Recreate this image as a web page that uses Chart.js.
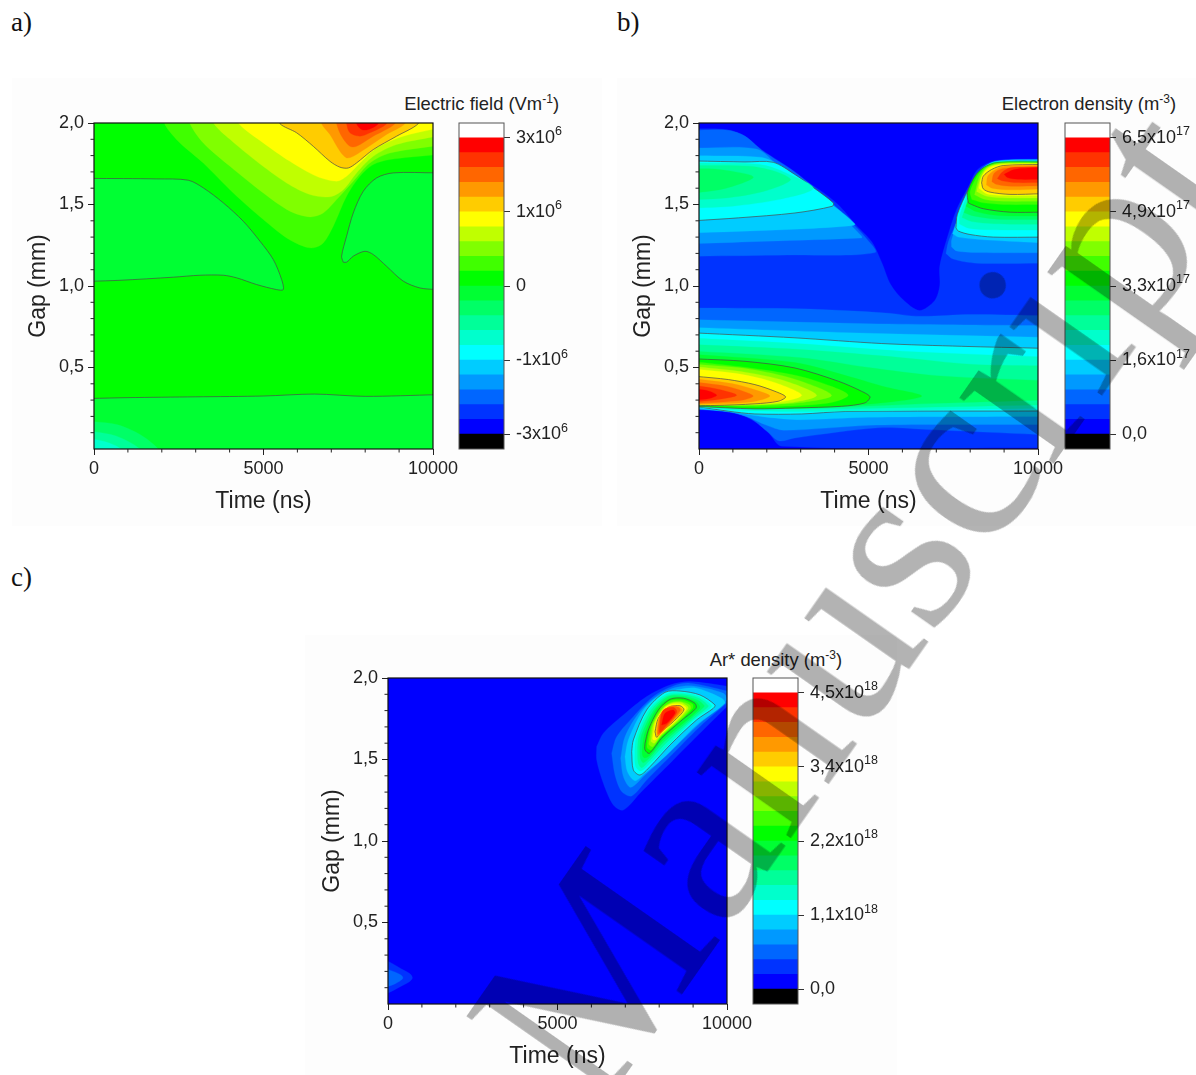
<!DOCTYPE html>
<html><head><meta charset="utf-8">
<script src="https://cdn.jsdelivr.net/npm/chart.js@4"></script>
<style>
html,body{margin:0;padding:0;background:#fff;width:1196px;height:1075px;overflow:hidden;font-family:"Liberation Sans",Arial,sans-serif}
canvas{position:absolute}
.pad{position:absolute;background:#fdfdfd}
.tag{position:absolute;font:27px "Liberation Serif",serif;color:#111;line-height:1}
.cbt{position:absolute;font:18.4px "Liberation Sans",sans-serif;color:#222;line-height:1;white-space:nowrap}
.cbt sup{font-size:12px;line-height:0}
#wm{position:absolute;font:250px "Liberation Serif",serif;line-height:1;color:#b3b3b3;mix-blend-mode:multiply;white-space:nowrap;transform-origin:0 .8375em;transform:rotate(-55deg);left:597px;top:calc(1116px - .8375em);pointer-events:none}
</style></head><body>
<div class="pad" style="left:12px;top:78px;width:590px;height:448px"></div>
<div class="pad" style="left:617px;top:78px;width:579px;height:448px"></div>
<div class="pad" style="left:305px;top:635px;width:592px;height:440px"></div>
<div class="tag" style="left:11px;top:9px">a)</div>
<div class="tag" style="left:617px;top:9px">b)</div>
<div class="tag" style="left:11px;top:564px">c)</div>
<div class="cbt" style="right:637px;top:95px">Electric field (Vm<sup>-1</sup>)</div>
<div class="cbt" style="right:20px;top:95px">Electron density (m<sup>-3</sup>)</div>
<div class="cbt" style="right:354px;top:651px">Ar* density (m<sup>-3</sup>)</div>
<canvas id="a" width="443" height="411" style="left:20px;top:113px"></canvas>
<canvas id="ac" width="156" height="346" style="left:440px;top:113px"></canvas>
<canvas id="b" width="443" height="411" style="left:625px;top:113px"></canvas>
<canvas id="bc" width="156" height="346" style="left:1046px;top:113px"></canvas>
<canvas id="c" width="443" height="411" style="left:314px;top:668px"></canvas>
<canvas id="cc" width="156" height="346" style="left:734px;top:668px"></canvas>
<div id="wm">Manuscript</div>
<script>
// Contour band colours, hottest (0) to coldest (19)
const bandColors=['#ff0000','#ff3300','#ff6600','#ff9900','#ffcc00','#ffff00','#c0ff00','#80ff00','#40ff00','#00ff00','#00ff33','#00ff66','#00ff99','#00ffcc','#00ffff','#00ccff','#0099ff','#0066ff','#0033ff','#0000ff'];
const overColor='#ffffff', underColor='#000000';
const tickLevels=[1,6,11,16,21];
const fieldTicks=['-3x10','-1x10','0','1x10','3x10'];
const fieldExp=['6','6','','6','6'];
const electronTicks=['0,0','1,6x10','3,3x10','4,9x10','6,5x10'];
const electronExp=['','17','17','17','17'];
const arTicks=['0,0','1,1x10','2,2x10','3,4x10','4,5x10'];
const arExp=['','18','18','18','18'];
const fullArea=[[-100,-.05],[10100,-.05],[10100,2.05],[-100,2.05]];

// a) Electric field: contour outlines as [time ns, gap mm]
const A8=[[2090,2.05],[2094,1.99],[2536,1.878],[3224,1.755],[4109,1.571],[4994,1.408],[5682,1.295],[6173,1.244],[6468,1.234],[6763,1.264],[7058,1.367],[7451,1.551],[7844,1.673],[8238,1.745],[8729,1.776],[10100,1.806],[10100,2.05]];
const A7=[[2831,2.05],[2831,1.996],[3224,1.878],[4011,1.735],[4994,1.571],[5780,1.459],[6370,1.424],[6763,1.448],[7156,1.53],[7648,1.643],[8139,1.755],[8729,1.816],[10100,1.861],[10100,2.05]];
const A6=[[3539,2.05],[3539,1.996],[4011,1.9],[4797,1.765],[5682,1.632],[6370,1.561],[6960,1.547],[7353,1.591],[7746,1.694],[8238,1.796],[8926,1.868],[10100,1.919],[10100,2.05]];
const A5=[[4276,2.05],[4276,1.996],[4994,1.878],[5780,1.765],[6566,1.673],[7156,1.643],[7451,1.673],[7844,1.755],[8336,1.847],[9122,1.919],[10100,1.966],[10100,2.05]];
const A4=[[5485,2.05],[5485,1.996],[5977,1.94],[6468,1.857],[6960,1.765],[7255,1.729],[7500,1.724],[7746,1.755],[8238,1.837],[8926,1.919],[9565,1.996],[9565,2.05]];
const A3=[[6714,2.05],[6714,1.996],[6960,1.93],[7255,1.827],[7451,1.786],[7648,1.796],[8041,1.847],[8631,1.93],[9171,1.996],[9171,2.05]];
const A2=[[7156,2.05],[7156,1.996],[7304,1.919],[7550,1.857],[7746,1.857],[8238,1.919],[8877,1.996],[8877,2.05]];
const A1=[[7451,2.05],[7451,1.996],[7550,1.94],[7844,1.919],[8139,1.94],[8631,1.996],[8631,2.05]];
const A0=[[7746,2.05],[7746,1.996],[7893,1.96],[8090,1.96],[8385,1.996],[8385,2.05]];
const A10left=[[-100,1.66],[1850,1.657],[2780,1.649],[3224,1.602],[3814,1.51],[4404,1.397],[4895,1.275],[5289,1.162],[5534,1.04],[5583,.978],[5387,.978],[4797,1.009],[4207,1.05],[3814,1.066],[3126,1.066],[2339,1.054],[767,1.035],[-100,1.029]];
const A10right=[[7353,1.146],[7304,1.183],[7451,1.305],[7648,1.448],[7943,1.581],[8336,1.663],[8827,1.694],[10100,1.694],[10100,.978],[9614,.988],[9122,1.03],[8631,1.121],[8238,1.193],[7992,1.213],[7648,1.183],[7451,1.146]];
const A10low=[[-100,.31],[1000,.315],[3000,.32],[5000,.325],[6500,.337],[8000,.323],[10100,.333],[10100,-.05],[-100,-.05]];
const A11=[[-100,.17],[670,.15],[1357,.089],[1897,0],[1950,-.05],[-100,-.05]];
const A12=[[-100,.11],[650,.08],[1357,0],[1400,-.05],[-100,-.05]];
const A13=[[-100,.065],[400,.04],[790,0],[850,-.05],[-100,-.05]];
const fieldLayers=[[9,fullArea],[8,A8],[7,A7],[6,A6],[5,A5],[4,A4,1],[3,A3],[2,A2],[1,A1],[0,A0],[10,A10left,1],[10,A10right,1],[10,A10low,1],[11,A11],[12,A12],[13,A13]];

// b) Electron density
const B18=[[-100,1.965],[800,1.96],[1350,1.92],[2000,1.80],[2800,1.69],[3550,1.59],[4100,1.50],[4650,1.37],[5100,1.27],[5400,1.14],[5650,1.01],[6000,.92],[6500,.85],[6950,.91],[7100,1.0],[7100,1.12],[7300,1.28],[7600,1.47],[7950,1.61],[8200,1.71],[8600,1.76],[9000,1.775],[10100,1.78],[10100,.007],[2440,.017],[2050,.10],[1553,.18],[865,.232],[-100,.24]];
const B17low=[[-100,.865],[3000,.86],[5500,.835],[6500,.814],[8000,.825],[10100,.818],[10100,.088],[6763,.119],[5290,.13],[2831,.068],[2350,.05],[2000,.11],[1500,.19],[800,.235],[-100,.245]];
const B16low=[[-100,.793],[5000,.769],[10100,.757],[10100,.15],[7000,.15],[5000,.145],[2500,.115],[2000,.145],[1400,.20],[800,.23],[-100,.245]];
const B15low=[[-100,.745],[5000,.71],[10100,.685],[10100,.20],[5000,.195],[3000,.18],[2000,.195],[1000,.225],[-100,.25]];
const B14low=[[-100,.712],[2830,.682],[5390,.647],[7750,.63],[10100,.618],[10100,.233],[4310,.23],[3030,.215],[1650,.215],[865,.232],[-100,.262]];
const B13low=[[-100,.68],[3000,.645],[6000,.60],[10100,.565],[10100,.25],[3000,.23],[1000,.24],[-100,.262]];
const B12low=[[-100,.64],[3000,.61],[6000,.56],[8000,.52],[10100,.51],[10100,.27],[3000,.245],[-100,.265]];
const B11low=[[-100,.60],[3000,.56],[5000,.50],[7000,.45],[10100,.42],[10100,.30],[7000,.28],[3000,.25],[-100,.27]];
const B10low=[[-100,.58],[2830,.53],[4500,.44],[5500,.38],[6570,.325],[5500,.285],[3000,.25],[-100,.265]];
const B9low=[[-100,.553],[1357,.538],[2831,.497],[4109,.416],[4797,.354],[5043,.32],[4895,.283],[4207,.262],[2831,.252],[1650,.246],[-100,.262]];
const B8low=[[-100,.535],[1400,.50],[2900,.45],[3900,.385],[4400,.33],[3900,.285],[2830,.265],[1500,.26],[-100,.27]];
const B7low=[[-100,.52],[1500,.49],[2800,.43],[3910,.33],[3000,.285],[1500,.268],[-100,.27]];
const B6low=[[-100,.505],[1400,.47],[2500,.42],[3470,.33],[2700,.285],[1300,.27],[-100,.27]];
const B5low=[[-100,.49],[1200,.46],[2200,.41],[3030,.33],[2300,.285],[1200,.272],[-100,.272]];
const B4low=[[-100,.446],[865,.426],[1650,.395],[2240,.354],[2555,.32],[2340,.293],[1650,.277],[470,.267],[-100,.268]];
const B3low=[[-100,.43],[1000,.40],[1700,.36],[2090,.325],[1700,.295],[1000,.28],[-100,.275]];
const B2low=[[-100,.41],[800,.385],[1300,.355],[1600,.325],[1300,.30],[800,.29],[-100,.28]];
const B1low=[[-100,.39],[600,.365],[1110,.33],[600,.305],[-100,.29]];
const B0low=[[-100,.37],[300,.355],[520,.33],[300,.31],[-100,.30]];
const B17ul=[[-100,1.955],[850,1.955],[1350,1.92],[1850,1.835],[2830,1.70],[3814,1.53],[4500,1.39],[4900,1.30],[5190,1.205],[2600,1.19],[-100,1.183]];
const B16ul=[[-100,1.847],[1700,1.84],[2340,1.735],[3224,1.59],[4109,1.448],[4797,1.305],[4797,1.295],[2000,1.275],[-100,1.26]];
const B15ul=[[-100,1.80],[1800,1.79],[2300,1.75],[3224,1.60],[4109,1.47],[4600,1.38],[4500,1.37],[3000,1.35],[-100,1.326]];
const B14ul=[[-100,1.767],[1357,1.761],[2190,1.759],[2830,1.684],[3322,1.612],[3961,1.51],[3932,1.489],[2830,1.448],[1160,1.418],[-100,1.401]];
const B13ul=[[-100,1.755],[1800,1.745],[2500,1.70],[3372,1.60],[2340,1.53],[1000,1.49],[-100,1.479]];
const B12ul=[[-100,1.74],[1500,1.735],[2300,1.70],[2700,1.65],[1900,1.58],[800,1.54],[-100,1.53]];
const B11ul=[[-100,1.72],[600,1.715],[1602,1.669],[800,1.6],[-100,1.571]];
const B17ur=[[7285,1.20],[7354,1.27],[7551,1.37],[7895,1.55],[8288,1.71],[8681,1.76],[9300,1.775],[10100,1.775],[10100,1.14],[8190,1.14],[7500,1.165]];
const B16ur=[[7450,1.24],[7450,1.28],[7650,1.40],[7950,1.55],[8300,1.71],[8700,1.76],[10100,1.775],[10100,1.204],[8300,1.205],[7600,1.215]];
const B15ur=[[7480,1.32],[7650,1.42],[8000,1.56],[8350,1.71],[8750,1.765],[10100,1.775],[10100,1.265],[8300,1.285],[7650,1.30]];
const B14ur=[[7580,1.357],[7620,1.439],[7944,1.592],[8288,1.705],[8681,1.752],[9271,1.764],[10100,1.764],[10100,1.30],[8681,1.30],[7993,1.316],[7649,1.337]];
const B13ur=[[7680,1.38],[7700,1.44],[8000,1.59],[8330,1.71],[8700,1.757],[10100,1.765],[10100,1.343],[8600,1.345],[7950,1.355]];
const B12ur=[[7760,1.42],[8020,1.585],[8350,1.71],[8720,1.757],[10100,1.765],[10100,1.378],[8700,1.382],[8050,1.395]];
const B11ur=[[7820,1.45],[8050,1.58],[8370,1.71],[8730,1.757],[10100,1.763],[10100,1.408],[8800,1.41],[8100,1.43]];
const B10ur=[[7880,1.49],[8080,1.59],[8380,1.715],[8750,1.757],[10100,1.762],[10100,1.429],[8850,1.432],[8200,1.455]];
const B9ur=[[7944,1.51],[7914,1.572],[8140,1.674],[8386,1.725],[8780,1.756],[10100,1.76],[10100,1.453],[9173,1.453],[8386,1.474],[8042,1.50]];
const B8ur=[[8050,1.53],[8000,1.58],[8200,1.67],[8420,1.725],[8800,1.755],[10100,1.758],[10100,1.50],[9000,1.50],[8400,1.51]];
const B7ur=[[8130,1.56],[8270,1.67],[8470,1.725],[8850,1.752],[10100,1.755],[10100,1.52],[9000,1.52],[8450,1.53]];
const B6ur=[[8190,1.58],[8320,1.67],[8500,1.725],[8900,1.75],[10100,1.752],[10100,1.54],[9100,1.54],[8500,1.55]];
const B5ur=[[8260,1.60],[8350,1.675],[8560,1.725],[8950,1.745],[10100,1.75],[10100,1.555],[9100,1.555],[8500,1.565]];
const B4ur=[[8337,1.633],[8386,1.674],[8632,1.715],[8976,1.739],[10100,1.746],[10100,1.566],[9173,1.562],[8583,1.576],[8386,1.596]];
const B3ur=[[8480,1.62],[8520,1.675],[8750,1.715],[9000,1.735],[10100,1.74],[10100,1.595],[9200,1.59],[8650,1.60]];
const B2ur=[[8640,1.64],[8700,1.69],[8950,1.72],[10100,1.735],[10100,1.615],[9200,1.612],[8800,1.622]];
const B1ur=[[8800,1.66],[8950,1.70],[9200,1.725],[10100,1.73],[10100,1.635],[9300,1.635],[8950,1.645]];
const B0ur=[[9000,1.685],[9300,1.715],[10100,1.728],[10100,1.655],[9400,1.655],[9100,1.665]];
const electronLayers=[[19,fullArea],[18,B18],[17,B17low],[17,B17ul],[17,B17ur],[16,B16low],[16,B16ul],[16,B16ur],[15,B15low],[15,B15ul],[15,B15ur],[14,B14low,1],[14,B14ul,1],[14,B14ur,1],[13,B13low],[13,B13ul],[13,B13ur],[12,B12low],[12,B12ul],[12,B12ur],[11,B11low],[11,B11ul],[11,B11ur],[10,B10low],[10,B10ur],[9,B9low,1],[9,B9ur,1],[8,B8low],[8,B8ur],[7,B7low],[7,B7ur],[6,B6low],[6,B6ur],[5,B5low],[5,B5ur],[4,B4low,1],[4,B4ur,1],[3,B3low],[3,B3ur],[2,B2low],[2,B2ur],[1,B1low],[1,B1ur],[0,B0low],[0,B0ur]];

// c) Ar* density
const C18=[[6156,1.579],[6352,1.661],[6942,1.773],[7630,1.886],[8318,1.957],[8908,1.978],[10100,1.947],[10100,1.845],[9400,1.702],[8416,1.497],[7434,1.293],[6942,1.19],[6647,1.221],[6352,1.354],[6156,1.497]];
const C17=[[6598,1.538],[6745,1.64],[7237,1.763],[7827,1.886],[8416,1.951],[8908,1.968],[10100,1.916],[10100,1.865],[9301,1.722],[8416,1.538],[7630,1.374],[7188,1.276],[6893,1.303],[6696,1.405]];
const C16=[[6864,1.507],[6991,1.64],[7434,1.794],[7974,1.896],[8515,1.943],[9006,1.951],[9891,1.906],[9989,1.865],[9203,1.722],[8318,1.548],[7581,1.405],[7158,1.329],[6942,1.395]];
const C15=[[6991,1.518],[7089,1.62],[7532,1.804],[8073,1.902],[8613,1.931],[9105,1.937],[9842,1.876],[9940,1.845],[9105,1.712],[8220,1.528],[7581,1.415],[7286,1.37],[7060,1.426]];
const C14=[[7188,1.548],[7237,1.62],[7630,1.804],[8171,1.912],[8613,1.92],[9203,1.896],[9645,1.835],[9596,1.814],[9105,1.743],[8318,1.589],[7728,1.456],[7434,1.405],[7237,1.436]];
const C13=[[7280,1.56],[7320,1.63],[7680,1.80],[8200,1.90],[8650,1.91],[9200,1.885],[9550,1.83],[9500,1.815],[9000,1.74],[8250,1.585],[7700,1.47],[7450,1.43],[7300,1.46]];
const C12=[[7360,1.57],[7400,1.64],[7750,1.80],[8220,1.89],[8660,1.90],[9180,1.875],[9450,1.83],[9400,1.815],[8950,1.74],[8200,1.60],[7700,1.49],[7480,1.45],[7380,1.48]];
const C11=[[7430,1.58],[7480,1.65],[7830,1.80],[8260,1.885],[8680,1.89],[9130,1.865],[9330,1.83],[9280,1.815],[8850,1.735],[8150,1.61],[7720,1.51],[7530,1.48],[7440,1.51]];
const C10=[[7510,1.59],[7580,1.665],[7900,1.805],[8290,1.875],[8700,1.88],[9090,1.855],[9200,1.825],[9180,1.81],[8750,1.73],[8110,1.62],[7720,1.525],[7560,1.51],[7500,1.53]];
const C9=[[7581,1.6],[7679,1.681],[7974,1.804],[8318,1.869],[8711,1.876],[9055,1.845],[9085,1.814],[8613,1.732],[8073,1.63],[7709,1.538],[7581,1.559]];
const C8=[[7650,1.61],[7740,1.70],[8020,1.81],[8320,1.86],[8680,1.865],[8980,1.84],[8990,1.815],[8580,1.73],[8060,1.64],[7770,1.56],[7650,1.57]];
const C7=[[7710,1.62],[7790,1.71],[8070,1.81],[8340,1.85],[8660,1.855],[8900,1.835],[8920,1.81],[8540,1.73],[8060,1.645],[7820,1.58],[7700,1.59]];
const C6=[[7770,1.63],[7840,1.72],[8120,1.815],[8360,1.845],[8640,1.85],[8840,1.825],[8850,1.81],[8500,1.73],[8060,1.65],[7860,1.60],[7760,1.61]];
const C5=[[7820,1.65],[7900,1.735],[8180,1.82],[8380,1.84],[8620,1.84],[8790,1.82],[8790,1.805],[8460,1.73],[8070,1.66],[7890,1.62],[7810,1.625]];
const C4=[[7876,1.671],[7974,1.753],[8269,1.82],[8613,1.83],[8731,1.804],[8416,1.732],[8073,1.671],[7925,1.636]];
const C3=[[7930,1.685],[8020,1.77],[8300,1.825],[8590,1.825],[8680,1.80],[8350,1.725],[8050,1.66],[7950,1.645]];
const C2=[[7970,1.70],[8060,1.785],[8330,1.825],[8570,1.82],[8620,1.80],[8250,1.705],[8020,1.66],[7960,1.655]];
const C1=[[8010,1.70],[8110,1.80],[8420,1.82],[8520,1.79],[8200,1.705],[8020,1.665]];
const C0=[[8073,1.712],[8171,1.783],[8416,1.804],[8466,1.783],[8220,1.722]];
const Cleft18=[[-100,.262],[0,.262],[400,.215],[650,.185],[720,.16],[620,.135],[350,.105],[0,.067],[-100,.067]];
const Cleft17=[[-100,.22],[220,.195],[400,.175],[440,.16],[380,.145],[220,.125],[-100,.10]];
const arLayers=[[19,fullArea],[18,C18],[18,Cleft18],[17,Cleft17],[17,C17],[16,C16],[15,C15],[14,C14,1],[13,C13],[12,C12],[11,C11],[10,C10],[9,C9,1],[8,C8],[7,C7],[6,C6],[5,C5],[4,C4,1],[3,C3],[2,C2],[1,C1],[0,C0]];

const xTicks=[0,5000,10000], yTicks=[.5,1,1.5,2];
const fmtGap=v=>v.toFixed(1).replace('.',',');
const near=(a,v)=>a.some(x=>Math.abs(x-v)<1e-6);
const offPlot=([x,y])=>x<=-100||x>=10100||y>=2.05||y<=-.05;
const noPad=s=>{s.paddingTop=s.paddingBottom=s.paddingLeft=s.paddingRight=0};
const frame={id:'frame',afterDraw(c){const a=c.chartArea,x=c.ctx;x.save();x.strokeStyle=c.config.options.frameColor||'#111';x.lineWidth=c.config.options.frameWidth||1.2;x.strokeRect(a.left,a.top,a.right-a.left,a.bottom-a.top);
 if(c.scales.x.type==='linear'){x.lineWidth=1;x.strokeStyle='#222';x.beginPath();
  c.scales.x.ticks.forEach(t=>{if(!near(xTicks,t.value)){const p=c.scales.x.getPixelForValue(t.value);x.moveTo(p,a.bottom);x.lineTo(p,a.bottom+3.5);}});
  c.scales.y.ticks.forEach(t=>{if(!near(yTicks,t.value)&&t.value>0){const p=c.scales.y.getPixelForValue(t.value);x.moveTo(a.left,p);x.lineTo(a.left-3.5,p);}});x.stroke();}
 x.restore();}};

function plot(id,layers){
 const ds=layers.map(([band,pts,contour])=>({
  data:pts.concat([pts[0]]).flatMap(p=>offPlot(p)?[p,p]:[p]).map(([x,y])=>({x,y})),
  backgroundColor:bandColors[band],fill:'shape',
  borderColor:contour?'#4a4a4a':bandColors[band],borderWidth:contour?.7:.3,
  pointRadius:0,tension:.3,capBezierPoints:false
 })).reverse();
 new Chart(document.getElementById(id),{type:'line',data:{datasets:ds},plugins:[frame],options:{
  responsive:false,animation:false,events:[],layout:{padding:{top:10,right:30}},
  plugins:{legend:{display:false},tooltip:{enabled:false}},
  scales:{
   x:{type:'linear',min:0,max:10000,afterFit:s=>{s.height=75;noPad(s)},
    grid:{drawOnChartArea:false,tickLength:6,tickColor:c=>near(xTicks,c.tick.value)?'#222':'rgba(0,0,0,0)'},border:{display:false},
    ticks:{stepSize:1000,autoSkip:false,maxRotation:0,padding:3,color:'#222',font:{family:'Liberation Sans',size:18},callback:v=>near(xTicks,v)?String(v):''},
    title:{display:true,text:'Time (ns)',color:'#222',font:{family:'Liberation Sans',size:23},padding:{top:0,bottom:9}}},
   y:{type:'linear',min:0,max:2,afterFit:s=>{s.width=74;noPad(s)},
    grid:{drawOnChartArea:false,tickLength:6,tickColor:c=>near(yTicks,c.tick.value)?'#222':'rgba(0,0,0,0)'},border:{display:false},
    ticks:{stepSize:.1,autoSkip:false,padding:4,color:'#222',font:{family:'Liberation Sans',size:18},callback:v=>near(yTicks,v)?fmtGap(v):''},
    title:{display:true,text:'Gap (mm)',color:'#222',font:{family:'Liberation Sans',size:23},padding:{top:5,bottom:0}}}
  }}});
}
function bar(id,labels,exps){
 const cols=[underColor,...bandColors.slice().reverse(),overColor];
 const expPlugin={id:'exp',afterDraw(c){const x=c.ctx,s=c.scales.y;x.save();x.fillStyle='#222';x.textBaseline='middle';
  tickLevels.forEach((v,i)=>{if(!exps[i])return;x.font='18px "Liberation Sans"';const w=x.measureText(labels[i]).width;x.font='12.5px "Liberation Sans"';x.fillText(exps[i],c.chartArea.right+12+w,s.getPixelForValue(v)-6);});x.restore();}};
 new Chart(document.getElementById(id),{type:'bar',data:{labels:[''],datasets:cols.map(c=>({data:[1],backgroundColor:c,barPercentage:1,categoryPercentage:1,borderWidth:0}))},plugins:[frame,expPlugin],options:{
  responsive:false,animation:false,events:[],frameColor:'#555',frameWidth:1,layout:{padding:{top:10,bottom:10,left:19}},
  plugins:{legend:{display:false},tooltip:{enabled:false}},
  scales:{x:{display:false,stacked:true},
   y:{stacked:true,position:'right',min:0,max:22,afterFit:s=>{s.width=92;noPad(s)},afterBuildTicks:s=>{s.ticks=tickLevels.map(v=>({value:v}))},
    grid:{drawOnChartArea:false,tickLength:6,tickColor:'#333'},border:{display:false},
    ticks:{padding:6,color:'#222',font:{family:'Liberation Sans',size:18},callback:v=>labels[tickLevels.indexOf(v)]}}}}});
}
plot('a',fieldLayers);bar('ac',fieldTicks,fieldExp);
plot('b',electronLayers);bar('bc',electronTicks,electronExp);
plot('c',arLayers);bar('cc',arTicks,arExp);
</script></body></html>
